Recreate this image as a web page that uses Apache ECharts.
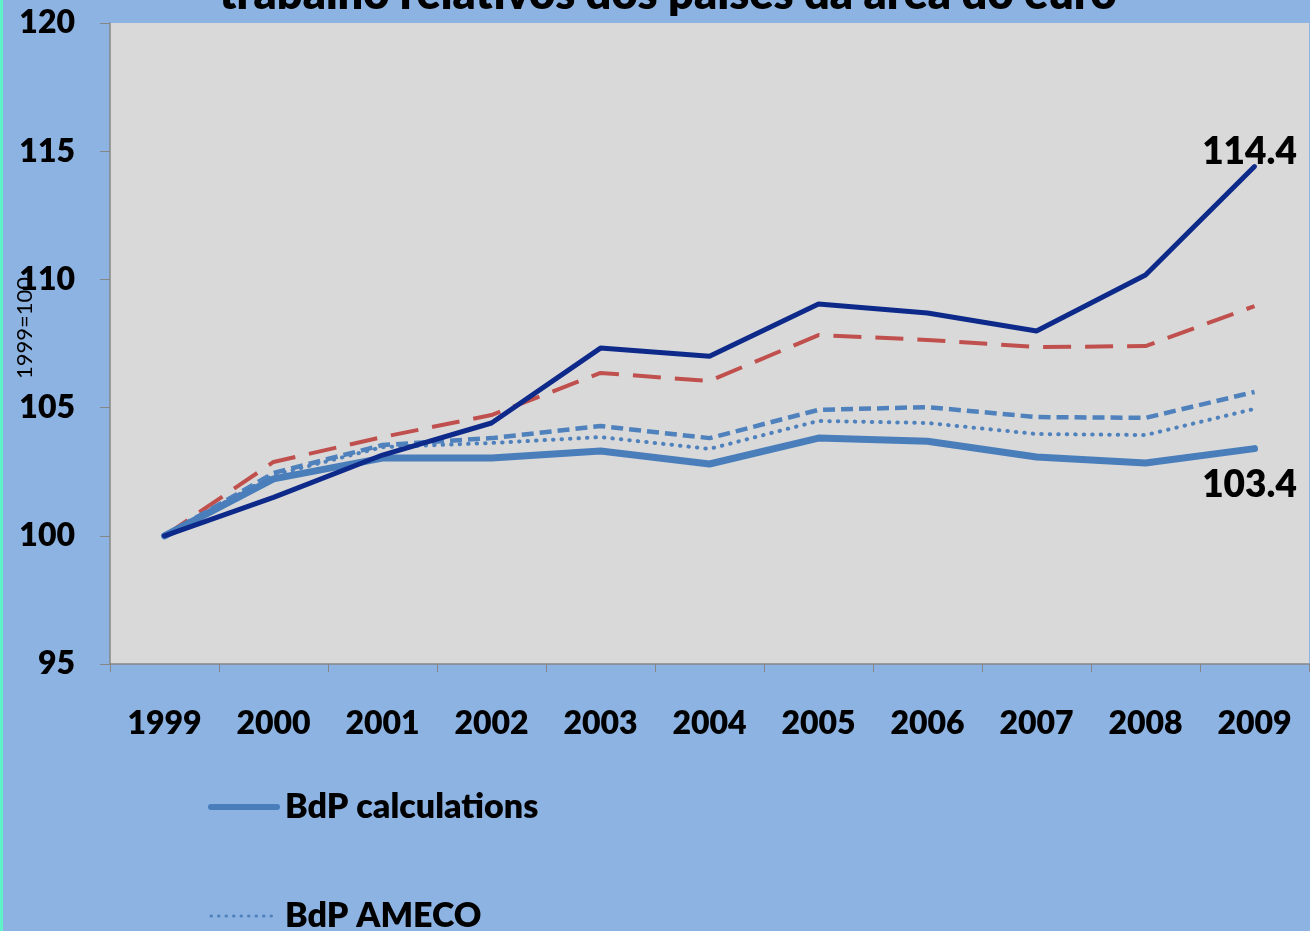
<!DOCTYPE html>
<html>
<head>
<meta charset="utf-8">
<script src="https://cdn.jsdelivr.net/npm/echarts@6/dist/echarts.min.js"></script>
<style>
html,body{margin:0;padding:0;background:#8DB3E2;}
#c{width:1310px;height:931px;}
</style>
</head>
<body>
<div id="c"></div>
<script>
const years = ['1999','2000','2001','2002','2003','2004','2005','2006','2007','2008','2009'];
const yTicks = [95, 100, 105, 110, 115, 120];
const navySeries = [100, 101.5, 103.15, 104.4, 107.32, 107.0, 109.04, 108.69, 107.99, 110.17, 114.4];
const redDashed = [100, 102.88, 103.85, 104.71, 106.35, 106.04, 107.83, 107.64, 107.36, 107.4, 108.96];
const blueDashed = [100, 102.45, 103.54, 103.81, 104.28, 103.81, 104.91, 105.02, 104.63, 104.6, 105.61];
const bdpAmeco = [100, 102.37, 103.46, 103.62, 103.85, 103.39, 104.48, 104.40, 103.97, 103.93, 104.95];
const bdpCalc = [100, 102.22, 103.03, 103.03, 103.31, 102.8, 103.81, 103.69, 103.07, 102.84, 103.4];
const legendNames = ['BdP calculations', 'BdP AMECO'];
const titleText = 'trabalho relativos dos países da área do euro';
const yName = '1999=100';

const FONT = 'Lato';
const W = 800;
function withEndLabel(arr, pos, dist, offset) {
  return arr.map((v, i) => i === arr.length - 1 ? {
    value: v,
    label: { show: true, position: pos, distance: dist, offset: offset, formatter: v.toFixed(1),
      fontFamily: FONT, fontWeight: W, fontSize: 37, color: '#000' }
  } : v);
}

const chart = echarts.init(document.getElementById('c'), null, {renderer: 'canvas'});
chart.setOption({
  backgroundColor: '#8DB3E2',
  animation: false,
  graphic: [
    { type: 'rect', left: 0, top: 0, shape: { width: 3, height: 931 }, style: { fill: '#5EF2C6' } },
    { type: 'text', x: 668, y: -28, style: { text: titleText, fill: '#000', font: W + ' 45px Lato', textAlign: 'center', textVerticalAlign: 'top' } },
    { type: 'text', x: 25, y: 328, rotation: Math.PI / 2, style: { text: yName, fill: '#000', font: '22px Lato', textAlign: 'center', textVerticalAlign: 'middle' } },
    { type: 'line', shape: { x1: 211, y1: 807, x2: 277, y2: 807 }, style: { stroke: '#4A7EBB', lineWidth: 6, lineCap: 'round' } },
    { type: 'text', x: 285, y: 807, style: { text: legendNames[0], fill: '#000', font: W + ' 34px Lato', textVerticalAlign: 'middle' } },
    { type: 'line', shape: { x1: 211, y1: 916, x2: 275, y2: 916 }, style: { stroke: '#4F81BD', lineWidth: 3, lineDash: [0.5, 7], lineCap: 'round' } },
    { type: 'text', x: 285, y: 916, style: { text: legendNames[1], fill: '#000', font: W + ' 34px Lato', textVerticalAlign: 'middle' } }
  ],
  grid: { left: 110, right: 1, top: 23, bottom: 267, show: true, backgroundColor: '#D9D9D9', borderWidth: 0,
          containLabel: false, outerBoundsMode: 'none' },
  xAxis: {
    type: 'category', data: years, boundaryGap: true,
    axisLine: { lineStyle: { color: '#868686', width: 1.5 } },
    axisTick: { show: true, length: 8, alignWithLabel: false, lineStyle: { color: '#868686' } },
    axisLabel: { margin: 44, fontFamily: FONT, fontWeight: W, fontSize: 32, color: '#000' }
  },
  yAxis: {
    type: 'value', min: yTicks[0], max: yTicks[yTicks.length - 1], interval: 5,
    axisLine: { show: true, lineStyle: { color: '#868686', width: 1.5 } },
    axisTick: { show: true, length: 10, lineStyle: { color: '#868686' } },
    splitLine: { show: false },
    axisLabel: { margin: 35, fontFamily: FONT, fontWeight: W, fontSize: 32, color: '#000' }
  },
  series: [
    { name: 'Red dashed', type: 'line', data: redDashed, showSymbol: false, z: 3,
      lineStyle: { color: '#C0504D', width: 4, type: [28, 14] } },
    { name: 'Blue dashed', type: 'line', data: blueDashed, showSymbol: false, z: 3,
      lineStyle: { color: '#4F81BD', width: 4.5, type: [12, 6] } },
    { name: 'BdP AMECO', type: 'line', data: bdpAmeco, showSymbol: false, z: 3,
      lineStyle: { color: '#4F81BD', width: 4, type: [0.5, 8], cap: 'round' } },
    { name: 'BdP calculations', type: 'line', data: withEndLabel(bdpCalc, 'bottom', 18, [-5, 0]),
      symbol: 'circle', symbolSize: 0.01, showSymbol: true, z: 4,
      lineStyle: { color: '#4A7EBB', width: 7, cap: 'round' } },
    { name: 'Navy', type: 'line', data: withEndLabel(navySeries, 'top', 0, [-5, 4]),
      symbol: 'circle', symbolSize: 0.01, showSymbol: true, z: 5,
      lineStyle: { color: '#0D2A8A', width: 5, cap: 'round' } }
  ]
});
</script>
</body>
</html>
